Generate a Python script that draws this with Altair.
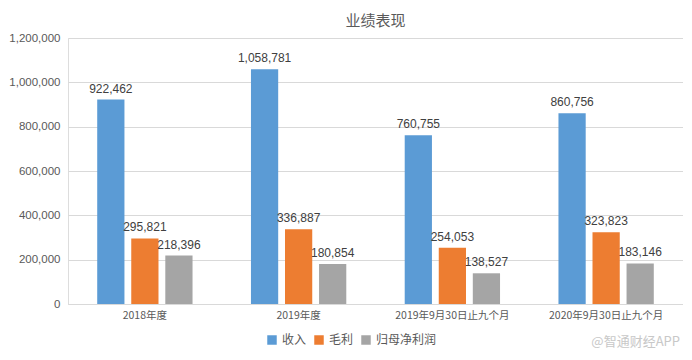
import altair as alt
import pandas as pd

categories = ["2018年度", "2019年度", "2019年9月30日止九个月", "2020年9月30日止九个月"]
series = ["收入", "毛利", "归母净利润"]
revenue = [922462, 1058781, 760755, 860756]
gross_profit = [295821, 336887, 254053, 323823]
net_profit = [218396, 180854, 138527, 183146]
colors = ["#5B9BD5", "#ED7D31", "#A5A5A5"]
y_ticks = [0, 200000, 400000, 600000, 800000, 1000000, 1200000]

rows = []
for i, c in enumerate(categories):
    for s, vals in zip(series, [revenue, gross_profit, net_profit]):
        rows.append({"period": c, "series": s, "value": vals[i]})
df = pd.DataFrame(rows)

font = "Noto Sans CJK SC"

base = alt.Chart(df).encode(
    x=alt.X("period:N", sort=categories, title=None,
            scale=alt.Scale(paddingInner=0.38, paddingOuter=0.19),
            axis=alt.Axis(labelAngle=0, labelFontSize=10.5, labelColor="#595959",
                          ticks=False, domain=True, domainColor="#D9D9D9",
                          labelPadding=6, labelFont=font)),
    xOffset=alt.XOffset("series:N", sort=series,
                        scale=alt.Scale(paddingInner=0.2, paddingOuter=0)),
)

bars = base.mark_bar().encode(
    y=alt.Y("value:Q", title=None,
            scale=alt.Scale(domain=[0, 1200000]),
            axis=alt.Axis(values=y_ticks,
                          format=",.0f", labelFontSize=11.5, labelColor="#595959",
                          domain=False, ticks=False, gridColor="#D9D9D9",
                          labelPadding=8, labelFont="Liberation Sans")),
    color=alt.Color("series:N", sort=series,
                    scale=alt.Scale(domain=series, range=colors),
                    legend=alt.Legend(orient="none", legendX=198, legendY=296,
                                      direction="horizontal", title=None,
                                      symbolType="square", symbolSize=90,
                                      symbolStrokeWidth=0,
                                      labelFontSize=12, labelColor="#595959",
                                      labelFont=font, columnPadding=6)),
)

labels = base.mark_text(dy=-11, fontSize=12, color="#404040", font="Liberation Sans").encode(
    y=alt.Y("value:Q"),
    text=alt.Text("value:Q", format=","),
)

watermark = alt.Chart(pd.DataFrame({"t": ["@智通财经APP"]})).mark_text(
    align="right", baseline="middle", fontSize=13, color="#C8C8C8", font=font
).encode(x=alt.value(612), y=alt.value(304), text="t:N")

chart = alt.layer(bars, labels, watermark).properties(
    width=615, height=266,
    padding={"left": 0, "top": 6, "right": 0, "bottom": 0},
    title=alt.Title("业绩表现", fontSize=15, font=font, color="#595959",
                    fontWeight="normal", offset=3),
).configure_view(stroke=None).configure(background="white")

chart.save("out.html", embed_options={"renderer": "svg", "actions": False})
